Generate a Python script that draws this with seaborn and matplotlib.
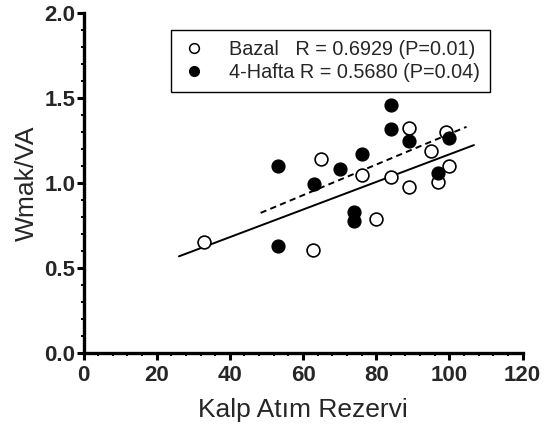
import numpy as np
import pandas as pd
import matplotlib
matplotlib.use('Agg')
import matplotlib.pyplot as plt
from matplotlib.ticker import MultipleLocator
from matplotlib.lines import Line2D
import seaborn as sns

# Bazal (açık daireler)
bazal_x = [32.8, 62.8, 64.9, 76.0, 80.0, 84.0, 89.0, 89.0, 94.9, 97.0, 99.1, 100.0]
bazal_y = [0.653, 0.608, 1.143, 1.049, 0.792, 1.035, 1.323, 0.976, 1.19, 1.01, 1.30, 1.10]

# 4-Hafta (dolu daireler)
hafta_x = [53.1, 53.1, 63.0, 70.1, 76.0, 74.0, 74.0, 84.0, 84.0, 89.0, 97.0, 100.0]
hafta_y = [1.10, 0.633, 0.994, 1.084, 1.17, 0.829, 0.78, 1.46, 1.32, 1.249, 1.059, 1.265]

legend_labels = ['Bazal   R = 0.6929 (P=0.01)', '4-Hafta R = 0.5680 (P=0.04)']


def fit_line(x, y):
    x = np.asarray(x)
    y = np.asarray(y)
    slope, icpt = np.polyfit(x, y, 1)
    span = x.max() - x.min()
    xs = np.array([x.min() - 0.1 * span, x.max() + 0.1 * span])
    return xs, slope * xs + icpt


def main():
    sns.set_theme(style='ticks')
    plt.rcParams['font.family'] = ['Liberation Sans', 'DejaVu Sans']

    fig, ax = plt.subplots(figsize=(5.46, 4.30), dpi=100)
    fig.subplots_adjust(left=0.153, right=0.957, top=0.969, bottom=0.178)

    df_b = pd.DataFrame({'x': bazal_x, 'y': bazal_y})
    df_h = pd.DataFrame({'x': hafta_x, 'y': hafta_y})

    sns.scatterplot(data=df_b, x='x', y='y', ax=ax, s=85, facecolor='white',
                    edgecolor='black', linewidth=1.2, zorder=3)
    sns.scatterplot(data=df_h, x='x', y='y', ax=ax, s=85, color='black',
                    edgecolor='black', linewidth=1.0, zorder=4)

    xs, ys = fit_line(bazal_x, bazal_y)
    ax.plot(xs, ys, color='black', lw=1.4, zorder=2)
    xs, ys = fit_line(hafta_x, hafta_y)
    ax.plot(xs, ys, color='black', lw=1.4, ls=(0, (3.2, 2.2)), zorder=2)

    ax.set_xlim(0, 120)
    ax.set_ylim(0, 2.0)
    ax.xaxis.set_major_locator(MultipleLocator(20))
    ax.xaxis.set_minor_locator(MultipleLocator(4))
    ax.yaxis.set_major_locator(MultipleLocator(0.5))
    ax.yaxis.set_minor_locator(MultipleLocator(0.1))
    ax.yaxis.set_major_formatter(matplotlib.ticker.FormatStrFormatter('%.1f'))

    ax.spines['top'].set_visible(False)
    ax.spines['right'].set_visible(False)
    for sp in ['left', 'bottom']:
        ax.spines[sp].set_linewidth(2.4)
        ax.spines[sp].set_color('black')
    ax.tick_params(which='major', length=5, width=2.2, color='black',
                   labelsize=16, pad=1)
    ax.tick_params(axis='x', which='major', pad=3)
    ax.tick_params(which='minor', length=2, width=1.4, color='black')
    for lab in ax.get_xticklabels() + ax.get_yticklabels():
        lab.set_fontweight('bold')

    ax.set_xlabel('Kalp Atım Rezervi', fontsize=19, labelpad=9)
    ax.set_ylabel('Wmak/VA', fontsize=19, labelpad=4)

    handles = [
        Line2D([], [], ls='none', marker='o', markersize=7, markerfacecolor='white',
               markeredgecolor='black', markeredgewidth=1.1),
        Line2D([], [], ls='none', marker='o', markersize=7, markerfacecolor='black',
               markeredgecolor='black'),
    ]
    leg = ax.legend(handles, legend_labels, loc='upper left',
                    bbox_to_anchor=(0.2, 0.951), borderaxespad=0,
                    fontsize=14.3, frameon=True,
                    fancybox=False, edgecolor='black', framealpha=1,
                    handletextpad=1.1, borderpad=0.5, labelspacing=0.2,
                    handlelength=1.3)
    leg.get_frame().set_linewidth(1.0)

    fig.savefig('out.png', dpi=100)
    plt.close('all')


if __name__ == '__main__':
    main()
